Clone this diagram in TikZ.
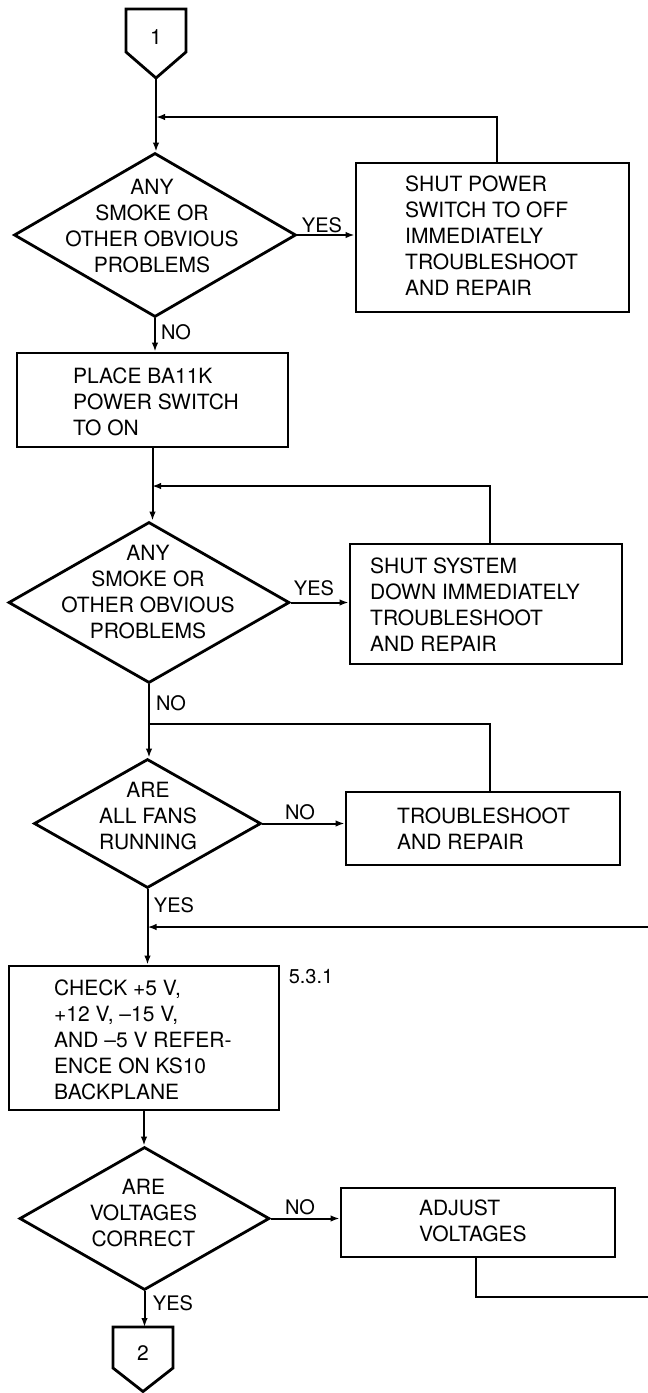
\documentclass[tikz,border=0pt]{standalone}
\usepackage{fontspec}
\setmainfont{TeX Gyre Heros}
\usetikzlibrary{shapes.geometric,arrows.meta,calc}
\newcommand\fs{\fontsize{21}{26}\selectfont}
\begin{document}
\begin{tikzpicture}[x=1pt,y=-1pt,
 shp/.style={draw, line width=2.8pt, inner sep=0pt},
 boxn/.style={shp, rectangle},
 dia/.style={shp, diamond},
 ln/.style={line width=2pt},
 arr/.style={ln, -{Latex[length=9pt,width=6.5pt]}},
 txt/.style={font=\fs, inner sep=0pt, align=left, anchor=west},
 dtxt/.style={font=\fs, inner sep=0pt, align=center},
 lab/.style={font=\fontsize{20}{24}\selectfont, inner sep=0pt}]
\fill[white] (0,0) rectangle (648,1393);
\useasboundingbox (0,0) rectangle (648,1393);

% off-page connector 1
\draw[shp] (126,9) -- (186,9) -- (186,52) -- (156,78) -- (126,52) -- cycle;
\node[lab, font=\fs] (c1) at (156,37) {1};
\coordinate (c1tip) at (156,78);

% first decision
\node[dia, minimum width=282pt, minimum height=164pt] (d1) at (155,235) {};
\node[dtxt] (d1t) at (152,226.5) {ANY\\SMOKE OR\\OTHER OBVIOUS\\PROBLEMS};
\node[boxn, minimum width=273pt, minimum height=149pt] (a) at (492.5,237.5) {};
\node[txt] (at) at (405,235.5) {SHUT POWER\\SWITCH TO OFF\\IMMEDIATELY\\TROUBLESHOOT\\AND REPAIR};

\node[boxn, minimum width=271pt, minimum height=94pt] (p) at (152.5,400) {};
\node[txt] (pt) at (73,401.5) {PLACE BA11K\\POWER SWITCH\\TO ON};

% second decision
\node[dia, minimum width=281pt, minimum height=161pt] (d2) at (149,602.5) {};
\node[dtxt] (d2t) at (148,592.5) {ANY\\SMOKE OR\\OTHER OBVIOUS\\PROBLEMS};
\node[boxn, minimum width=272pt, minimum height=120pt] (b) at (486,604) {};
\node[txt] (bt) at (370,605) {SHUT SYSTEM\\DOWN IMMEDIATELY\\TROUBLESHOOT\\AND REPAIR};

% fans
\node[dia, minimum width=227pt, minimum height=129pt] (d3) at (147.5,823.5) {};
\node[dtxt] (d3t) at (148,816) {ARE\\ALL FANS\\RUNNING};
\node[boxn, minimum width=274pt, minimum height=73pt] (c) at (483,828.5) {};
\node[txt] (ct) at (397,828.5) {TROUBLESHOOT\\AND REPAIR};

% check voltages
\node[boxn, minimum width=270pt, minimum height=144pt] (k) at (144,1038) {};
\node[txt] (kt) at (54,1040) {CHECK +5 V,\\+12 V, –15 V,\\AND –5 V REFER-\\ENCE ON KS10\\BACKPLANE};
\node[lab] (ref) at (311,977) {5.3.1};

\node[dia, minimum width=250pt, minimum height=143pt] (d4) at (144.5,1218.5) {};
\node[dtxt] (d4t) at (143.5,1213) {ARE\\VOLTAGES\\CORRECT};
\node[boxn, minimum width=274pt, minimum height=69pt] (d) at (478,1222.5) {};
\node[txt] (dt) at (419,1220.5) {ADJUST\\VOLTAGES};

% off-page connector 2
\draw[shp] (113,1327) -- (173,1327) -- (173,1368) -- (143,1391.5) -- (113,1368) -- cycle;
\node[lab, font=\fs] (c2) at (143,1353) {2};
\coordinate (c2top) at (143,1327);

% joins
\coordinate (j1) at (156,117);
\coordinate (ja) at (497,117);
\coordinate (j2) at (152,486);
\coordinate (jb) at (490,486);
\coordinate (j3) at (148,724);
\coordinate (jc) at (490,724);
\coordinate (j4) at (147.5,927);
\coordinate (e1) at (648,927);
\coordinate (jd) at (476,1297);
\coordinate (e2) at (648,1297);

% connectors
\draw[arr] (c1tip) -- (c1tip |- d1.north);
\draw[arr] (ja |- a.north) -- (ja) -- (j1);
\draw[arr] (d1.east) -- (d1.east -| a.west);
\draw[arr] (d1.south) -- (d1.south |- p.north);
\draw[arr] (p.south) -- (p.south |- d2.north);
\draw[arr] (jb |- b.north) -- (jb) -- (j2);
\draw[arr] (d2.east) -- (d2.east -| b.west);
\draw[arr] (d2.south) -- (d2.south |- d3.north);
\draw[ln] (jc |- c.north) -- (jc) -- (j3);
\draw[arr] (d3.east) -- (d3.east -| c.west);
\draw[arr] (d3.south) -- (d3.south |- k.north);
\draw[arr] (e1) -- (j4);
\draw[arr] (k.south) -- (k.south |- d4.north);
\draw[arr] (d4.east) -- (d4.east -| d.west);
\draw[arr] (d4.south) -- (d4.south |- c2top);
\draw[ln] (jd |- d.south) -- (jd) -- (e2);

% labels
\node[lab] (l1) at (322,225) {YES};
\node[lab] (l2) at (176,332) {NO};
\node[lab] (l3) at (314,588) {YES};
\node[lab] (l4) at (171,703) {NO};
\node[lab] (l5) at (300,812) {NO};
\node[lab] (l6) at (174,905) {YES};
\node[lab] (l7) at (300,1207) {NO};
\node[lab] (l8) at (173,1303) {YES};
\end{tikzpicture}
\end{document}
